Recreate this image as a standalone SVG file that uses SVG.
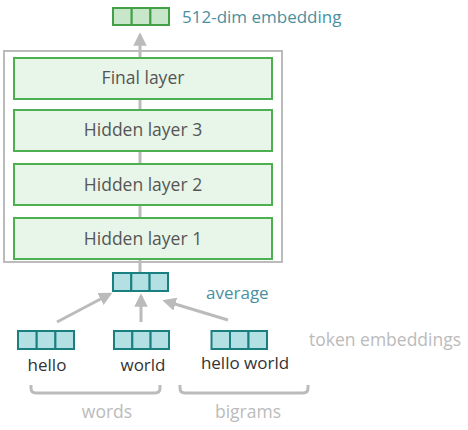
<svg xmlns="http://www.w3.org/2000/svg" width="468" height="430" viewBox="0 0 468 430">
<defs>
<style>
text{font-family:"Open Sans","Noto Sans",sans-serif}
.layer{fill:#e8f5e9;stroke:#4caf50;stroke-width:2}
.lt{font-size:17.5px;fill:#555;text-anchor:middle}
.g{fill:#c8e6c9;stroke:#43a047;stroke-width:2}
.t{fill:#b2e0e3;stroke:#1a7f80;stroke-width:2}
.conn{stroke:#bbb;stroke-width:3;fill:none}
.blue{font-size:17px;fill:#4a8fa0}
.tok{font-size:17px;fill:#333;text-anchor:middle}
.grey{font-size:17.5px;fill:#bbb}
</style>
<marker id="ah" viewBox="0 0 10 10" refX="8" refY="5" markerWidth="4.5" markerHeight="4.5" orient="auto">
<path d="M0,0 L10,5 L0,10 z" fill="#bbb"/>
</marker>
</defs>
<g id="connectors">
<line class="conn" x1="140" y1="272" x2="140" y2="35" marker-end="url(#ah)"/>
<line class="conn" x1="57" y1="322" x2="110" y2="294" marker-end="url(#ah)"/>
<line class="conn" x1="141" y1="322" x2="141" y2="296" marker-end="url(#ah)"/>
<line class="conn" x1="228" y1="320" x2="165" y2="301" marker-end="url(#ah)"/>
</g>
<g id="network">
<rect x="4" y="51" width="278" height="211" fill="none" stroke="#bbb" stroke-width="2"/>
</g>
<g id="final-layer">
<rect class="layer" x="14" y="58" width="258" height="41"/>
<text class="lt" x="143" y="84">Final layer</text>
</g>
<g id="hidden-layer-3">
<rect class="layer" x="14" y="110" width="258" height="41"/>
<text class="lt" x="143" y="136">Hidden layer 3</text>
</g>
<g id="hidden-layer-2">
<rect class="layer" x="14" y="164" width="258" height="41"/>
<text class="lt" x="143" y="191">Hidden layer 2</text>
</g>
<g id="hidden-layer-1">
<rect class="layer" x="14" y="218" width="258" height="41"/>
<text class="lt" x="143" y="245">Hidden layer 1</text>
</g>
<g id="output-embedding">
<rect class="g" x="113" y="8" width="18.7" height="17"/>
<rect class="g" x="131.7" y="8" width="18.7" height="17"/>
<rect class="g" x="150.4" y="8" width="18.6" height="17"/>
<text class="blue" x="182" y="23">512-dim embedding</text>
</g>
<g id="average">
<rect class="t" x="113" y="273" width="18.3" height="18"/>
<rect class="t" x="131.3" y="273" width="18.3" height="18"/>
<rect class="t" x="149.6" y="273" width="18.4" height="18"/>
<text class="blue" x="206" y="299">average</text>
</g>
<g id="hello">
<rect class="t" x="18" y="331" width="18.7" height="18"/>
<rect class="t" x="36.7" y="331" width="18.7" height="18"/>
<rect class="t" x="55.4" y="331" width="18.6" height="18"/>
<text class="tok" x="47" y="371">hello</text>
</g>
<g id="world">
<rect class="t" x="114" y="331" width="18.3" height="18"/>
<rect class="t" x="132.3" y="331" width="18.3" height="18"/>
<rect class="t" x="150.6" y="331" width="18.4" height="18"/>
<text class="tok" x="143" y="371">world</text>
</g>
<g id="hello-world">
<rect class="t" x="211.5" y="331" width="18.5" height="18"/>
<rect class="t" x="230" y="331" width="18.5" height="18"/>
<rect class="t" x="248.5" y="331" width="18.5" height="18"/>
<text class="tok" x="245" y="369">hello world</text>
</g>
<g id="token-embeddings-label">
<text class="grey" x="309" y="346">token embeddings</text>
</g>
<g id="words">
<path class="conn" d="M31,385 v3 q0,5 5,5 h119 q5,0 5,-5 v-3"/>
<text class="grey" x="107" y="418" text-anchor="middle">words</text>
</g>
<g id="bigrams">
<path class="conn" d="M180,385 v3 q0,5 5,5 h118 q5,0 5,-5 v-3"/>
<text class="grey" x="248" y="418" text-anchor="middle">bigrams</text>
</g>
</svg>
